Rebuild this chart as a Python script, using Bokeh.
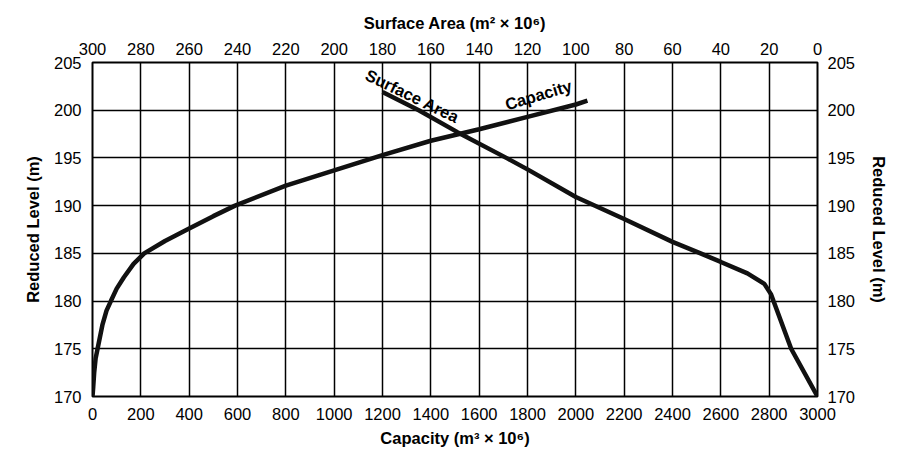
from bokeh.plotting import figure
from bokeh.models import LinearAxis, Range1d, FixedTicker, Label
from bokeh.embed import file_html
from bokeh.resources import INLINE

# ---- data ----
capacity = [0, 3, 7, 13, 21, 41, 58, 76, 100, 130, 170, 214, 300, 400, 500, 590,
            800, 1000, 1200, 1400, 1600, 1800, 2000, 2048]
level_capacity = [170, 171, 172.5, 174, 175, 177.5, 179, 180, 181.3, 182.5, 183.9, 185, 186.3, 187.6, 188.9, 190,
                  192.1, 193.7, 195.3, 196.8, 198.0, 199.3, 200.6, 201.0]

surface_area = [0, 10.9, 18.2, 19.2, 22, 29, 40, 48.4, 60, 80, 100, 120, 128, 149, 165, 180]
level_area = [170, 175, 180, 180.7, 181.8, 182.9, 184.1, 185, 186.2, 188.6, 190.9, 193.8, 194.9, 197.7, 200, 201.9]

capacity_ticks = list(range(0, 3001, 200))
area_ticks = list(range(0, 301, 20))
level_ticks = [170, 175, 180, 185, 190, 195, 200, 205]

title_bottom = "Capacity (m\u00b3 \u00d7 10\u2076)"
title_top = "Surface Area (m\u00b2 \u00d7 10\u2076)"
title_side = "Reduced Level (m)"

FONT = "Liberation Sans"

p = figure(frame_width=725, frame_height=334,
           x_range=Range1d(0, 3000), y_range=Range1d(170, 205),
           output_backend="svg", toolbar_location=None,
           min_border_left=92, min_border_right=82,
           min_border_top=62, min_border_bottom=54,
           background_fill_color="white", border_fill_color="white")
p.extra_x_ranges = {"area": Range1d(300, 0)}

p.outline_line_color = "black"
p.outline_line_width = 2

p.xgrid.ticker = FixedTicker(ticks=capacity_ticks)
p.ygrid.ticker = FixedTicker(ticks=level_ticks)
for g in (p.xgrid, p.ygrid):
    g.grid_line_color = "black"
    g.grid_line_width = 1.5
    g.grid_line_alpha = 1.0

bottom = p.below[0]
left = p.left[0]
bottom.ticker = FixedTicker(ticks=capacity_ticks)
left.ticker = FixedTicker(ticks=level_ticks)

top = LinearAxis(x_range_name="area", ticker=FixedTicker(ticks=area_ticks))
right = LinearAxis(ticker=FixedTicker(ticks=level_ticks))
p.add_layout(top, "above")
p.add_layout(right, "right")

bottom.axis_label = title_bottom
top.axis_label = title_top
left.axis_label = title_side
right.axis_label = title_side

for ax, so, lso in ((bottom, 5, 6), (left, 5, 9), (top, 2, 8), (right, 4, 12)):
    ax.axis_line_color = None
    ax.major_tick_line_color = None
    ax.minor_tick_line_color = None
    ax.major_label_text_font = FONT
    ax.major_label_text_font_size = "16.5px"
    ax.major_label_text_color = "black"
    ax.major_label_standoff = so
    ax.axis_label_text_font = FONT
    ax.axis_label_text_font_size = "16.5px"
    ax.axis_label_text_font_style = "bold"
    ax.axis_label_text_color = "black"
    ax.axis_label_standoff = lso

p.line(capacity, level_capacity, line_color="#111111", line_width=4.5)
p.line(surface_area, level_area, line_color="#111111", line_width=4.5, x_range_name="area")


def lab(x, y, text, angle=0.0):
    p.add_layout(Label(x=x, y=y, text=text, angle=angle,
                       text_align="center", text_baseline="middle",
                       text_font=FONT, text_font_size="16.5px", text_color="black",
                       text_font_style="bold"))


# curve labels
lab(1324, 201.5, "Surface Area", angle=-0.45)
lab(1845, 201.6, "Capacity", angle=0.29)

open("out.html", "w").write(file_html(p, INLINE))
